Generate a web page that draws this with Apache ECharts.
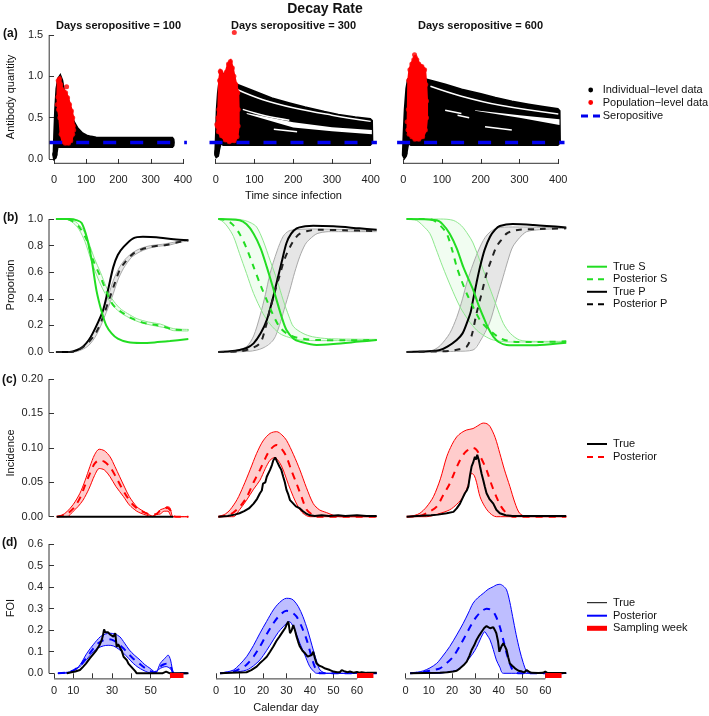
<!DOCTYPE html>
<html><head><meta charset="utf-8">
<script src="https://cdn.jsdelivr.net/npm/echarts/dist/echarts.min.js"></script>
<style>html,body{margin:0;padding:0;background:#fff}#chart{width:709px;height:716px}</style>
</head><body><div id="chart"></div>
<script>
// ---------------- DATA ----------------
const panelTitles = ['Days seropositive = 100', 'Days seropositive = 300', 'Days seropositive = 600'];
const seroThreshold = 0.2;
const seroExtent = [[-15, 412], [-16, 416], [-16, 416]];
// (a) antibody trajectories: outline of the individual-level mass, gaps, population-level cloud
const blackMass100 = [[0,0.03],[2,0.3],[5,0.6],[9,0.85],[14,0.97],[19,1.0],[24,0.95],[30,0.82],[40,0.66],[50,0.55],[60,0.45],[72,0.37],[86,0.31],[100,0.28],[115,0.265],[130,0.255],[150,0.25],[366,0.25],[369,0.235],[370,0.2],[369,0.165],[366,0.15],[150,0.15],[40,0.15],[15,0.15],[10,0.16],[7,0.08],[4,0.02],[1,0.01]];
const blackMass300 = [[0,0.05],[2,0.3],[4,0.6],[7,0.8],[11,0.95],[15,1.04],[22,1.0],[35,0.95],[54,0.895],[100,0.81],[144,0.73],[190,0.67],[230,0.62],[280,0.565],[316,0.53],[360,0.5],[398,0.48],[402,0.46],[403,0.2],[398,0.175],[300,0.175],[150,0.175],[60,0.175],[20,0.175],[12,0.2],[8,0.12],[5,0.04],[2,0.03]];
const blackMass600 = [[0,0.05],[2,0.3],[5,0.6],[9,0.85],[13,0.96],[30,0.98],[60,0.955],[108,0.895],[150,0.835],[200,0.78],[237,0.734],[280,0.69],[323,0.653],[360,0.625],[398,0.6],[402,0.58],[403,0.2],[398,0.175],[200,0.175],[60,0.175],[20,0.175],[12,0.2],[9,0.12],[6,0.04],[3,0.02]];
const gapWedge300 = [[80,0.555],[200,0.445],[300,0.385],[403,0.35],[403,0.3],[300,0.335],[200,0.38],[80,0.545]];
const gapLines300 = [[[55,0.84],[120,0.72],[200,0.62],[300,0.53],[400,0.455]], [[70,0.6],[130,0.52],[190,0.47]], [[150,0.36],[210,0.33]]];
const gapWedge600 = [[185,0.59],[300,0.53],[403,0.48],[403,0.41],[300,0.5],[185,0.585]];
const gapLines600 = [[[70,0.88],[150,0.76],[250,0.65],[400,0.545]], [[108,0.59],[150,0.55]], [[140,0.53],[170,0.5]], [[211,0.39],[280,0.35]]];
const redCloud100 = [[13,0.95],[17,0.97],[21,0.9],[25,0.84],[30,0.82],[36,0.8],[42,0.74],[48,0.66],[54,0.58],[58,0.5],[60,0.4],[58,0.3],[52,0.22],[45,0.19],[35,0.19],[28,0.21],[22,0.3],[18,0.5],[14,0.6],[12,0.75]];
const redCloud300 = [[8,0.6],[10,0.95],[13,1.05],[20,1.0],[27,1.05],[33,1.15],[38,1.18],[43,1.1],[47,1.0],[52,0.9],[57,0.8],[58,0.6],[58,0.4],[55,0.27],[48,0.22],[35,0.21],[25,0.23],[15,0.28],[7,0.33],[4,0.4],[6,0.5]];
const redCloud600 = [[14,0.95],[17,1.08],[22,1.15],[27,1.2],[31,1.23],[35,1.2],[40,1.15],[48,1.12],[55,1.08],[58,0.9],[60,0.7],[60,0.5],[57,0.35],[50,0.27],[40,0.24],[30,0.24],[22,0.27],[15,0.3],[12,0.35],[13,0.6]];
const redDots100 = [[39,0.875],[16,0.92],[10,0.66],[61,0.35]];
const redDots300 = [[48,1.53],[3,0.42],[12,1.06]];
const redDots600 = [[29,1.26],[10,0.45]];
const blackDots100 = [[3,0.05],[2,0.06]];
const blackDots300 = [[2.6,0.07],[3,0.09]];
const blackDots600 = [[4.4,0.07],[3.5,0.1]];

// (b) proportions
const trueS1 = [[1,1],[8,1],[12,0.99],[14.3,0.97],[17,0.86],[19.5,0.69],[22,0.46],[24.7,0.3],[27,0.2],[29.8,0.14],[33,0.1],[38,0.075],[45,0.068],[52,0.072],[60,0.082],[69.5,0.097]];
const postS1 = [[1,1],[6.5,1],[10,0.98],[13,0.94],[17,0.84],[20,0.7],[24,0.566],[27,0.46],[29,0.39],[32,0.33],[36,0.29],[40,0.255],[44.5,0.228],[49,0.21],[53,0.203],[57,0.19],[62,0.168],[69.5,0.165]];
const sBandUp1 = [[1,1],[7,1],[11,0.98],[15,0.92],[18,0.82],[21,0.7],[24,0.6],[27,0.49],[30,0.4],[34,0.33],[38,0.29],[43,0.25],[49,0.225],[55,0.21],[62,0.175],[69.5,0.17]];
const sBandLo1 = [[1,1],[6,1],[10,0.97],[13,0.92],[16,0.83],[19,0.7],[22,0.58],[25,0.48],[28,0.4],[31,0.34],[35,0.29],[40,0.25],[45,0.22],[51,0.2],[58,0.18],[62,0.16],[69.5,0.158]];
const trueP1 = [[1,0],[8,0],[12,0.015],[15,0.04],[18,0.09],[20,0.14],[23,0.23],[25.5,0.32],[28,0.47],[30.7,0.64],[33,0.73],[36,0.79],[41,0.855],[46,0.867],[50,0.865],[55,0.86],[62,0.848],[69.5,0.84]];
const postP1 = [[1,0],[9,0],[13,0.02],[17,0.06],[21.5,0.14],[25,0.25],[29,0.415],[31.5,0.52],[34,0.617],[37,0.68],[41,0.74],[45,0.77],[49.7,0.79],[54,0.8],[58,0.805],[64,0.825],[69.5,0.84]];
const pBandUp1 = [[1,0],[8,0],[12,0.02],[16,0.06],[20,0.14],[24,0.26],[28,0.42],[31,0.55],[34,0.64],[37,0.7],[41,0.75],[45,0.78],[50,0.8],[56,0.81],[62,0.825],[69.5,0.845]];
const pBandLo1 = [[1,0],[10,0],[14,0.015],[18,0.05],[22,0.13],[26,0.26],[30,0.41],[33,0.54],[36,0.63],[40,0.71],[44,0.75],[49,0.78],[54,0.795],[60,0.805],[65,0.825],[69.5,0.835]];

const trueS2 = [[1,1],[10,0.99],[13,0.96],[16,0.89],[19,0.78],[21.6,0.64],[24,0.5],[25.8,0.39],[28,0.26],[30,0.165],[33,0.1],[35.7,0.078],[42.8,0.053],[50,0.06],[61,0.078],[68.4,0.09]];
const postS2 = [[1,1],[4.5,0.99],[7,0.96],[10,0.89],[13,0.78],[16,0.64],[19,0.5],[21.6,0.39],[24,0.29],[27,0.19],[30,0.14],[33,0.115],[37,0.1],[42.8,0.09],[55,0.088],[68.4,0.09]];
const sBandLo2 = [[1,1],[3,0.98],[5,0.94],[7.4,0.87],[10,0.74],[13,0.59],[16,0.44],[20,0.29],[23,0.21],[27,0.14],[31,0.11],[35.7,0.09],[45,0.085],[68.4,0.088]];
const sBandUp2 = [[1,1],[8,1],[12,0.99],[15,0.97],[17.3,0.94],[20,0.84],[23,0.69],[26,0.54],[28.6,0.39],[31,0.27],[33,0.19],[37,0.14],[41,0.115],[48,0.1],[68.4,0.095]];
const trueP2 = [[1,0],[6,0.005],[10,0.015],[13,0.03],[16,0.065],[19,0.14],[21.6,0.24],[24,0.39],[25.8,0.52],[28,0.68],[30,0.82],[32,0.89],[34.3,0.93],[38,0.945],[41.4,0.95],[50,0.945],[61,0.93],[68.4,0.92]];
const postP2 = [[1,0],[10,0.005],[14,0.02],[18.7,0.065],[21,0.18],[23,0.32],[25,0.45],[27,0.57],[29,0.69],[31.5,0.79],[33.5,0.85],[35.7,0.89],[39,0.91],[43,0.92],[55,0.915],[68.4,0.91]];
const pBandUp2 = [[1,0],[8,0.01],[13,0.04],[16,0.12],[18.7,0.27],[21,0.43],[23,0.59],[26,0.76],[28.6,0.87],[31,0.91],[34,0.92],[40,0.925],[68.4,0.915]];
const pBandLo2 = [[1,0],[14,0.005],[20,0.03],[24.4,0.09],[27,0.2],[29,0.32],[31.5,0.47],[33.5,0.6],[35.7,0.72],[38,0.81],[40,0.85],[43,0.89],[48,0.905],[68.4,0.905]];

const trueS3 = [[0.5,1],[13.4,0.99],[16,0.96],[19,0.89],[22,0.78],[24.8,0.64],[27,0.55],[29,0.47],[31,0.37],[33.4,0.265],[35.5,0.18],[37.7,0.115],[40,0.075],[43.4,0.053],[50,0.05],[57.7,0.053],[69,0.07]];
const postS3 = [[0.5,1],[8,1],[12,0.99],[15,0.95],[17.7,0.89],[20,0.77],[22,0.64],[24,0.54],[26.3,0.44],[29,0.34],[32,0.24],[35,0.18],[37.7,0.14],[41,0.1],[46,0.078],[55,0.075],[69,0.08]];
const sBandLo3 = [[0.5,1],[3,0.995],[4.8,0.99],[7.5,0.95],[10.5,0.89],[13,0.78],[16,0.64],[19.5,0.49],[23.4,0.34],[27,0.24],[30.5,0.165],[34,0.12],[37.7,0.09],[45,0.075],[69,0.075]];
const sBandUp3 = [[0.5,1],[15,1],[20.5,0.99],[24,0.95],[27,0.88],[29,0.82],[32.5,0.66],[36,0.49],[39,0.35],[42,0.215],[45,0.14],[49,0.09],[55,0.08],[69,0.08]];
const trueP3 = [[0.5,0],[10,0.005],[14.8,0.015],[18,0.04],[22,0.09],[24.5,0.14],[26.3,0.215],[28,0.3],[29,0.39],[30.5,0.52],[32,0.64],[34,0.77],[36.3,0.867],[38.5,0.92],[40.5,0.947],[46,0.962],[55,0.955],[69,0.937]];
const postP3 = [[0.5,0],[15,0.005],[20,0.01],[23,0.02],[26.3,0.04],[28.5,0.13],[30.5,0.29],[32.7,0.44],[34.8,0.59],[37,0.7],[39,0.79],[41,0.84],[43.4,0.89],[46,0.91],[49,0.92],[58,0.925],[69,0.93]];
const pBandUp3 = [[0.5,0],[8,0.005],[12,0.015],[15,0.05],[19,0.14],[22,0.26],[24.5,0.4],[26.3,0.52],[29,0.66],[32,0.79],[35,0.88],[39,0.93],[46,0.94],[69,0.935]];
const pBandLo3 = [[0.5,0],[22,0.005],[29,0.015],[32,0.08],[36,0.215],[39,0.39],[42,0.57],[44,0.69],[46,0.79],[49,0.86],[52,0.905],[57.7,0.92],[69,0.93]];

// (c) incidence
const incUp1 = [[1.4,0],[4,0.002],[6.6,0.007],[10,0.018],[13.4,0.034],[16,0.052],[18.6,0.073],[21,0.09],[23.4,0.098],[26,0.096],[29,0.087],[31.5,0.073],[34,0.058],[36.5,0.043],[39,0.029],[42.8,0.0145],[45,0.01],[48,0.005],[51,0.001],[52.5,0.003],[55,0.01],[57,0.012],[58.5,0.0145],[60,0.013],[61.7,0],[69.5,0]];
const incLo1 = [[1.4,0],[6.6,0],[10,0.008],[12.5,0.015],[15,0.024],[18,0.04],[21,0.06],[23.4,0.07],[26,0.068],[29,0.058],[32,0.044],[36,0.029],[39,0.017],[42.8,0.008],[45,0.005],[48,0.002],[51,0],[53,0.003],[55,0.004],[57,0.008],[59,0.008],[61,0],[69.5,0]];
const incPost1 = [[1.4,0],[6,0.003],[10,0.012],[13.4,0.027],[16,0.045],[18.6,0.063],[21,0.077],[23.4,0.082],[26,0.08],[29,0.072],[32,0.058],[35,0.042],[38,0.028],[41,0.017],[44,0.01],[47,0.006],[50,0.003],[53,0.004],[55,0.009],[57,0.011],[58.5,0.013],[60,0.01],[61.5,0.002],[63,0],[69.5,0]];
const incTrue1 = [[1.4,0],[61.7,0]];
const incUp2 = [[1,0],[4,0.004],[6,0.01],[9,0.025],[11.6,0.044],[14.5,0.068],[17.3,0.092],[20,0.11],[23,0.121],[25.8,0.1235],[28,0.119],[30,0.111],[33,0.09],[35.7,0.068],[38.5,0.042],[41.4,0.019],[44,0.01],[47,0.006],[50,0.002],[52.7,0],[68.4,0]];
const incLo2 = [[1,0],[7.4,0],[10,0.01],[13,0.024],[16,0.04],[18.7,0.053],[21,0.07],[23,0.082],[25,0.086],[27,0.079],[28.6,0.068],[30.8,0.047],[32.9,0.029],[35,0.014],[37,0.005],[40,0],[68.4,0]];
const incPost2 = [[1,0],[6,0.003],[10,0.014],[13,0.028],[16,0.05],[18.7,0.068],[21,0.085],[23,0.097],[25.8,0.104],[28,0.098],[30,0.087],[32,0.068],[34.3,0.048],[36.5,0.028],[38.6,0.01],[41,0.003],[43,0],[68.4,0]];
const incTrue2 = [[1,0],[5,0.001],[8,0.003],[10,0.005],[12,0.008],[14,0.012],[16,0.019],[17.5,0.026],[18.7,0.034],[19.5,0.038],[20,0.048],[21,0.05],[21.6,0.058],[22.3,0.06],[23,0.068],[23.8,0.075],[24.4,0.082],[25.2,0.086],[26,0.08],[27,0.073],[27.8,0.068],[28.6,0.058],[29.3,0.05],[30,0.039],[30.8,0.032],[31.5,0.024],[32.9,0.019],[34,0.015],[35.7,0.012],[37,0.008],[38.6,0.004],[40,0.002],[42,0.001],[45,0.002],[48,0.001],[52,0.002],[55,0.001],[60,0.002],[64,0.001],[68.4,0.001]];
const incUp3 = [[1.2,0],[4,0.002],[6.2,0.005],[9,0.014],[12,0.029],[15,0.055],[17.7,0.087],[20,0.105],[22,0.116],[24,0.122],[26.3,0.126],[29,0.128],[31,0.132],[33.4,0.136],[35,0.135],[36.3,0.131],[38.5,0.115],[40.5,0.092],[42.5,0.068],[44.8,0.044],[47,0.02],[49,0.005],[52,0],[69,0]];
const incLo3 = [[1.2,0],[9,0],[14,0.004],[19,0.01],[22,0.018],[24.8,0.029],[26.8,0.045],[28.4,0.063],[29.5,0.06],[30.5,0.05],[32,0.029],[34,0.015],[36.3,0.005],[39,0],[69,0]];
const incPost3 = [[0.5,0],[6,0.001],[10,0.007],[13.4,0.0145],[16,0.03],[19,0.048],[21,0.064],[23.4,0.082],[25.5,0.093],[27.7,0.099],[29,0.1],[30.5,0.097],[32.5,0.085],[34.8,0.068],[37,0.046],[39,0.029],[41,0.015],[43.4,0.005],[46,0],[69,0]];
const incTrue3 = [[0.5,0],[5,0.001],[11,0.002],[14,0.003],[17.7,0.005],[20.6,0.007],[22,0.012],[23.4,0.019],[24.5,0.027],[25.5,0.034],[26.3,0.038],[27,0.044],[27.7,0.06],[28.4,0.073],[29,0.078],[29.8,0.087],[30.3,0.083],[30.8,0.09],[31.5,0.082],[32,0.073],[32.7,0.062],[33.4,0.053],[34.1,0.043],[34.8,0.034],[36,0.026],[37.7,0.019],[39,0.01],[40.5,0.005],[43,0.002],[46,0.001],[50,0.001],[55,0.001],[60,0.001],[69,0.001]];

// (d) force of infection
const foiUp1 = [[2,0],[6,0.004],[10,0.011],[13.5,0.04],[17,0.093],[20.5,0.135],[24,0.17],[26.5,0.182],[29,0.186],[31.5,0.182],[34,0.17],[36.5,0.14],[39,0.108],[41.5,0.085],[44.5,0.062],[47,0.04],[49.7,0.023],[51.5,0.01],[53,0.004],[54,0.025],[55,0.046],[56.5,0.062],[58,0.075],[59,0.085],[60.3,0.062],[61,0.03],[62,0],[69.5,0]];
const foiLo1 = [[2,0],[6.6,0],[10,0.012],[13.4,0.031],[17,0.065],[20.3,0.1],[23,0.118],[25.5,0.127],[28,0.13],[30.7,0.127],[33.5,0.112],[36,0.093],[38.5,0.07],[41,0.046],[43.5,0.028],[46,0.015],[48.5,0.005],[51,0],[53,0.01],[55,0.023],[57,0.03],[58,0.031],[60,0.023],[61,0.01],[61.5,0],[69.5,0]];
const foiPost1 = [[2,0],[6,0.003],[10,0.014],[13.4,0.035],[17,0.075],[20.3,0.115],[23,0.14],[25.5,0.153],[28,0.158],[30.7,0.153],[33.5,0.135],[36,0.115],[38.5,0.09],[41,0.068],[44,0.046],[47,0.025],[50,0.01],[52,0.004],[54,0.018],[55.5,0.035],[57,0.042],[58.5,0.045],[60,0.038],[61.3,0.01],[62,0],[69.5,0]];
const foiTrue1 = [[6.6,0],[9,0.005],[11,0.008],[13.4,0.015],[15,0.03],[16.5,0.045],[18.6,0.07],[20,0.085],[22,0.108],[23.5,0.13],[24.7,0.155],[25.3,0.175],[25.9,0.204],[26.5,0.19],[27,0.186],[28,0.19],[29,0.18],[29.8,0.183],[30.7,0.17],[31.2,0.175],[31.7,0.186],[32.4,0.123],[33.2,0.135],[34,0.139],[35,0.105],[36,0.077],[37,0.07],[37.6,0.062],[38.5,0.045],[39.3,0.039],[40,0.03],[41,0.023],[42,0.01],[42.8,0],[50,0],[56,0],[57,0.004],[58,0.008],[59,0.003],[60,0],[69.5,0]];
const foiUp2 = [[1.7,0],[4.5,0.006],[7.4,0.015],[10,0.04],[13,0.077],[16,0.13],[18.7,0.186],[21.5,0.24],[24.4,0.294],[27,0.328],[30,0.348],[31.5,0.347],[32.9,0.34],[35,0.31],[37,0.263],[39,0.2],[41.4,0.108],[43,0.05],[44.3,0.015],[47,0],[68.4,0]];
const foiLo2 = [[1.7,0],[3,0],[8,0.005],[13,0.015],[16,0.035],[18.7,0.062],[21.5,0.105],[24.4,0.155],[26.5,0.19],[28.6,0.216],[31.2,0.24],[32.9,0.216],[34.3,0.18],[35.7,0.139],[37.8,0.085],[39.9,0.031],[41.5,0.01],[42.8,0],[68.4,0]];
const foiPost2 = [[1.7,0],[7.4,0.008],[10,0.02],[13,0.04],[16,0.078],[18.7,0.124],[21.5,0.18],[24.4,0.232],[27,0.268],[30,0.29],[32,0.285],[34.3,0.263],[36.5,0.215],[38.6,0.155],[40.3,0.09],[42,0.031],[43.5,0.005],[44.5,0],[68.4,0]];
const foiTrue2 = [[1.7,0],[6,0.002],[10,0.004],[13,0.005],[15,0.015],[17.3,0.031],[18.5,0.045],[20,0.06],[21.6,0.077],[23,0.1],[24.4,0.124],[25.7,0.15],[27,0.17],[28.2,0.19],[29.4,0.209],[30,0.225],[30.8,0.24],[31.5,0.186],[32.2,0.2],[32.9,0.224],[33.6,0.2],[34.3,0.17],[35,0.145],[35.7,0.124],[36.8,0.105],[37.9,0.093],[39,0.077],[39.8,0.075],[40.7,0.085],[41.4,0.1],[42.1,0.07],[42.8,0.046],[44,0.035],[45,0.031],[46.5,0.022],[48.5,0.015],[50,0.008],[51.5,0.005],[52.7,0.005],[53.5,0.015],[54.5,0.01],[56,0.005],[57,0.008],[58.5,0.003],[60,0.006],[61,0.003],[62,0.005],[64,0.002],[68.4,0.002]];
const foiUp3 = [[2,0],[5,0.005],[7.6,0.011],[10.5,0.025],[13.4,0.046],[16,0.08],[19,0.124],[22,0.178],[24.8,0.232],[27,0.28],[29,0.325],[31,0.35],[33.4,0.371],[35.5,0.39],[37.7,0.402],[39,0.41],[40.5,0.413],[42,0.405],[43.4,0.387],[44.8,0.33],[46,0.263],[47.5,0.18],[49,0.108],[50.5,0.05],[52,0.008],[53.5,0],[69,0]];
const foiLo3 = [[2,0],[14.8,0],[18,0.006],[22,0.015],[25.5,0.045],[29,0.093],[30.5,0.12],[32,0.155],[33,0.178],[34,0.193],[35,0.178],[36.3,0.155],[37.7,0.11],[39,0.062],[40.5,0.028],[42,0],[69,0]];
const foiPost3 = [[2,0],[7.4,0.005],[11,0.013],[14.8,0.023],[17.5,0.045],[20.5,0.077],[23.5,0.13],[26.3,0.186],[28.5,0.23],[30.5,0.263],[32.7,0.288],[34.8,0.3],[36.3,0.297],[37.7,0.286],[39,0.26],[40.5,0.216],[42,0.155],[43.4,0.093],[44.8,0.045],[46,0.015],[47.5,0.003],[49,0],[69,0]];
const foiTrue3 = [[2,0],[8,0.001],[14.8,0.002],[18,0.005],[20.5,0.008],[22,0.012],[23.4,0.023],[25,0.038],[26.3,0.054],[27.4,0.08],[28.4,0.108],[29.5,0.13],[30.5,0.155],[31.6,0.175],[32.7,0.193],[33.8,0.21],[34.8,0.219],[35.5,0.214],[36.3,0.209],[37,0.216],[37.7,0.214],[38.4,0.2],[39,0.186],[39.7,0.15],[40.3,0.1],[41.2,0.125],[42,0.139],[42.7,0.125],[43.4,0.108],[44.1,0.075],[44.8,0.046],[45.8,0.035],[47,0.023],[48.5,0.012],[50,0.008],[51,0.004],[52,0.015],[53,0.008],[54,0.002],[57,0.001],[59,0.002],[60,0.008],[61,0.001],[69,0.001]];
const samplingWeek = [60, 67];
const samplingLevel = -0.01;

// tick labels
const xTicksA = [0, 100, 200, 300, 400];
const xTicksDay = [0, 10, 20, 30, 40, 50, 60];
const hiddenDayLabelsCol1 = [20, 40, 60];
const yTicksRows = [[0, 0.5, 1.0, 1.5], [0, 0.2, 0.4, 0.6, 0.8, 1.0], [0, 0.05, 0.1, 0.15, 0.2], [0, 0.1, 0.2, 0.3, 0.4, 0.5, 0.6]];
const yDecimals = [1, 1, 2, 1];

// ---------------- LAYOUT (plot regions) ----------------
const FONT = '"Liberation Sans", Arial, Helvetica, sans-serif';
const ROWS = [
  {top: 30.0, height: 133.3, y: [-0.052, 1.56]},
  {top: 213.7, height: 143.6, y: [-0.04, 1.04]},
  {top: 373.5, height: 148.7, y: [-0.008, 0.208]},
  {top: 538.4, height: 140.5, y: [-0.026, 0.626]}];
const COLS_A = [{left: 49.2, width: 137.7, x: [-15, 412]}, {left: 209.5, width: 167.4, x: [-16, 416]}, {left: 397.1, width: 167.4, x: [-16, 416]}];
const COLS_T = [{left: 49, width: 139.9, x: [-2.6, 69.8]}, {left: 209.9, width: 170.1, x: [-2.6, 69.8]}, {left: 399.4, width: 168.7, x: [-2.6, 69.8]}];
const GREEN = '#22dd22', LGREEN = '#8ee88e', GREYB = '#a9a9a9';
const AX = '#333';

const grids = [], xAxes = [], yAxes = [], series = [], axisSpecs = [];
for (let r = 0; r < 4; r++) {
  for (let c = 0; c < 3; c++) {
    const g = r * 3 + c;
    const col = r === 0 ? COLS_A[c] : COLS_T[c];
    grids.push({left: col.left, top: ROWS[r].top, width: col.width, height: ROWS[r].height, containLabel: false});
    const xt = r === 0 ? xTicksA : xTicksDay;
    const showX = r === 0 || r === 3;
    xAxes.push({
      type: 'value', gridIndex: g, min: col.x[0], max: col.x[1], show: showX,
      axisLine: {show: false},
      axisTick: {show: true, length: 5, customValues: xt, lineStyle: {color: AX}},
      splitLine: {show: false},
      axisLabel: {margin: r === 0 ? 11 : 7, fontSize: 11, color: '#222', fontFamily: FONT, customValues: xt,
        formatter: v => (r === 3 && c === 0 && hiddenDayLabelsCol1.includes(v)) ? '' : String(v)}
    });
    const yt = yTicksRows[r];
    yAxes.push({
      type: 'value', gridIndex: g, min: ROWS[r].y[0], max: ROWS[r].y[1], show: c === 0,
      axisLine: {show: false},
      axisTick: {show: true, length: 5, customValues: yt, lineStyle: {color: AX}},
      splitLine: {show: false},
      axisLabel: {margin: 6, fontSize: 11, color: '#222', fontFamily: FONT, customValues: yt,
        formatter: v => Number(v).toFixed(yDecimals[r])}
    });
    if (showX) axisSpecs.push({g: g, dir: 'x', from: xt[0], to: xt[xt.length - 1], at: ROWS[r].y[0]});
    if (c === 0) axisSpecs.push({g: g, dir: 'y', from: yt[0], to: yt[yt.length - 1], at: col.x[0]});
  }
}

function poly(g, pts, fill, stroke, lw, z) {
  return {type: 'custom', xAxisIndex: g, yAxisIndex: g, data: pts, silent: true, clip: false, z: z,
    renderItem: function (params, api) {
      if (params.dataIndex !== 0) return null;
      return {type: 'polygon', shape: {points: pts.map(p => api.coord(p))},
        style: {fill: fill, stroke: stroke || null, lineWidth: lw || 0}};
    }};
}
function band(g, up, lo, fill, z) {
  return poly(g, up.concat(lo.slice().reverse()), fill, null, 0, z);
}
function line(g, data, color, width, dash, smooth, z) {
  return {type: 'line', xAxisIndex: g, yAxisIndex: g, data: data, symbol: 'none', showSymbol: false,
    clip: false, silent: true, smooth: smooth || false, z: z || 3,
    lineStyle: {color: color, width: width, type: dash || 'solid', cap: 'butt'}};
}
function dots(g, data, color, size, z) {
  return {type: 'scatter', xAxisIndex: g, yAxisIndex: g, data: data, symbolSize: size, clip: false,
    silent: true, z: z || 4, itemStyle: {color: color}};
}

// Row (a)
const masses = [blackMass100, blackMass300, blackMass600];
const wedges = [null, gapWedge300, gapWedge600];
const gapLines = [[], gapLines300, gapLines600];
const clouds = [redCloud100, redCloud300, redCloud600];
const rDots = [redDots100, redDots300, redDots600];
const bDots = [blackDots100, blackDots300, blackDots600];
for (let c = 0; c < 3; c++) {
  const g = c;
  series.push(poly(g, masses[c], '#000', '#000', 3, 1));
  series.push(dots(g, bDots[c], '#000', 5, 1));
  if (wedges[c]) series.push(poly(g, wedges[c], '#fff', null, 0, 2));
  gapLines[c].forEach(gl => series.push(line(g, gl, '#fff', 1.5, 'solid', 0.4, 2)));
  series.push(poly(g, clouds[c], '#ff0000', '#ff0000', 3, 3));
  series.push(dots(g, clouds[c], '#ff0000', 5, 3));
  series.push(dots(g, rDots[c], '#ff0000', 5, 3));
  series.push(line(g, seroExtent[c].map(x => [x, seroThreshold]), '#0000ee', 3.5, [13, 14], false, 5));
}

// Row (b)
const bSets = [
  {tS: trueS1, pS: postS1, sU: sBandUp1, sL: sBandLo1, tP: trueP1, pP: postP1, pU: pBandUp1, pL: pBandLo1},
  {tS: trueS2, pS: postS2, sU: sBandUp2, sL: sBandLo2, tP: trueP2, pP: postP2, pU: pBandUp2, pL: pBandLo2},
  {tS: trueS3, pS: postS3, sU: sBandUp3, sL: sBandLo3, tP: trueP3, pP: postP3, pU: pBandUp3, pL: pBandLo3}];
bSets.forEach((s, c) => {
  const g = 3 + c;
  series.push(band(g, s.pU, s.pL, 'rgba(200,200,200,0.45)', 1));
  series.push(band(g, s.sU, s.sL, 'rgba(140,235,140,0.12)', 1));
  series.push(line(g, s.pU, GREYB, 1, 'solid', 0.3, 2));
  series.push(line(g, s.pL, GREYB, 1, 'solid', 0.3, 2));
  series.push(line(g, s.sU, LGREEN, 1, 'solid', 0.3, 2));
  series.push(line(g, s.sL, LGREEN, 1, 'solid', 0.3, 2));
  series.push(line(g, s.tP, '#000', 2, 'solid', 0.3, 3));
  series.push(line(g, s.pP, '#222', 2, [6, 6], 0.3, 3));
  series.push(line(g, s.tS, GREEN, 2, 'solid', 0.3, 3));
  series.push(line(g, s.pS, GREEN, 2, [6, 6], 0.3, 3));
});

// Row (c)
const cSets = [
  {u: incUp1, l: incLo1, p: incPost1, t: incTrue1},
  {u: incUp2, l: incLo2, p: incPost2, t: incTrue2},
  {u: incUp3, l: incLo3, p: incPost3, t: incTrue3}];
cSets.forEach((s, c) => {
  const g = 6 + c;
  series.push(band(g, s.u, s.l, 'rgba(255,0,0,0.2)', 1));
  series.push(line(g, s.u, '#ff0000', 1, 'solid', 0.3, 2));
  series.push(line(g, s.l, '#ff0000', 1, 'solid', 0.3, 2));
  series.push(line(g, s.p, '#ff0000', 2, [7, 6], 0.3, 3));
  series.push(line(g, s.t, '#000', 2, 'solid', false, 4));
});

// Row (d)
const dSets = [
  {u: foiUp1, l: foiLo1, p: foiPost1, t: foiTrue1},
  {u: foiUp2, l: foiLo2, p: foiPost2, t: foiTrue2},
  {u: foiUp3, l: foiLo3, p: foiPost3, t: foiTrue3}];
dSets.forEach((s, c) => {
  const g = 9 + c;
  series.push(band(g, s.u, s.l, 'rgba(40,40,255,0.3)', 1));
  series.push(line(g, s.u, '#0000ff', 1, 'solid', 0.3, 2));
  series.push(line(g, s.l, '#0000ff', 1, 'solid', 0.3, 2));
  series.push(line(g, s.p, '#0000ff', 2, [7, 6], 0.3, 3));
  series.push(line(g, s.t, '#000', 2, 'solid', false, 4));
  series.push(line(g, samplingWeek.map(x => [x, samplingLevel]), '#ff0000', 5, 'solid', false, 5));
});

// ---------------- TEXT / LEGENDS ----------------
function txt(x, y, text, size, weight, align, rot) {
  return {type: 'text', x: x, y: y, rotation: rot || 0, silent: true, z: 10,
    style: {text: text, fill: '#111', fontSize: size, fontWeight: weight || 'normal', fontFamily: FONT,
      align: align || 'center', verticalAlign: 'middle'}};
}
function lg(x1, x2, y, color, w, dash) {
  return {type: 'line', silent: true, z: 10, shape: {x1: x1, y1: y, x2: x2, y2: y},
    style: {stroke: color, lineWidth: w, lineDash: dash || null}};
}
function dot(x, y, color) {
  return {type: 'circle', silent: true, z: 10, shape: {cx: x, cy: y, r: 2.4}, style: {fill: color}};
}
const graphic = [
  txt(325, 9, 'Decay Rate', 14, 'bold'),
  txt(118.5, 26, panelTitles[0], 11, 'bold'),
  txt(293.5, 26, panelTitles[1], 11, 'bold'),
  txt(480.5, 26, panelTitles[2], 11, 'bold'),
  txt(3, 34, '(a)', 12, 'bold', 'left'),
  txt(3, 218, '(b)', 12, 'bold', 'left'),
  txt(2, 380, '(c)', 12, 'bold', 'left'),
  txt(2, 543, '(d)', 12, 'bold', 'left'),
  txt(11, 97, 'Antibody quantity', 11, 'normal', 'center', Math.PI / 2),
  txt(11, 285, 'Proportion', 11, 'normal', 'center', Math.PI / 2),
  txt(11, 453, 'Incidence', 11, 'normal', 'center', Math.PI / 2),
  txt(11, 608, 'FOI', 11, 'normal', 'center', Math.PI / 2),
  txt(293.5, 196, 'Time since infection', 11),
  txt(286, 708, 'Calendar day', 11),
  dot(590.7, 90, '#000'), txt(602.7, 90, 'Individual\u2212level data', 11, 'normal', 'left'),
  dot(590.7, 102.5, '#ff0000'), txt(602.7, 102.5, 'Population\u2212level data', 11, 'normal', 'left'),
  lg(581, 600, 116, '#0000ee', 3, [7, 5]), txt(602.7, 116, 'Seropositive', 11, 'normal', 'left'),
  lg(587, 607, 266.7, GREEN, 2), txt(613, 266.7, 'True S', 11, 'normal', 'left'),
  lg(587, 607, 279.3, GREEN, 2, [6, 5]), txt(613, 279.3, 'Posterior S', 11, 'normal', 'left'),
  lg(587, 607, 291.8, '#000', 2), txt(613, 291.8, 'True P', 11, 'normal', 'left'),
  lg(587, 607, 304.3, '#000', 2, [6, 5]), txt(613, 304.3, 'Posterior P', 11, 'normal', 'left'),
  lg(587, 607, 444, '#000', 2), txt(613, 444, 'True', 11, 'normal', 'left'),
  lg(587, 607, 457, '#ff0000', 2, [6, 5]), txt(613, 457, 'Posterior', 11, 'normal', 'left'),
  lg(587, 607, 602.7, '#000', 1), txt(613, 602.7, 'True', 11, 'normal', 'left'),
  lg(587, 607, 615.7, '#0000ff', 2), txt(613, 615.7, 'Posterior', 11, 'normal', 'left'),
  lg(587, 607, 628.3, '#ff0000', 5), txt(613, 628.3, 'Sampling week', 11, 'normal', 'left')
];

const chart = echarts.init(document.getElementById('chart'), null, {renderer: 'canvas'});
chart.setOption({
  animation: false, backgroundColor: '#fff',
  textStyle: {fontFamily: FONT},
  grid: grids, xAxis: xAxes, yAxis: yAxes, series: series, graphic: graphic
});
// R-style axis lines spanning first..last tick, positioned with the library's own scales
const axisLines = axisSpecs.map(s => {
  const p1 = s.dir === 'x' ? chart.convertToPixel({gridIndex: s.g}, [s.from, s.at]) : chart.convertToPixel({gridIndex: s.g}, [s.at, s.from]);
  const p2 = s.dir === 'x' ? chart.convertToPixel({gridIndex: s.g}, [s.to, s.at]) : chart.convertToPixel({gridIndex: s.g}, [s.at, s.to]);
  return {type: 'line', silent: true, z: 9, shape: {x1: p1[0], y1: p1[1], x2: p2[0], y2: p2[1]},
    style: {stroke: AX, lineWidth: 1}};
});
chart.setOption({graphic: graphic.concat(axisLines)});
</script></body></html>
